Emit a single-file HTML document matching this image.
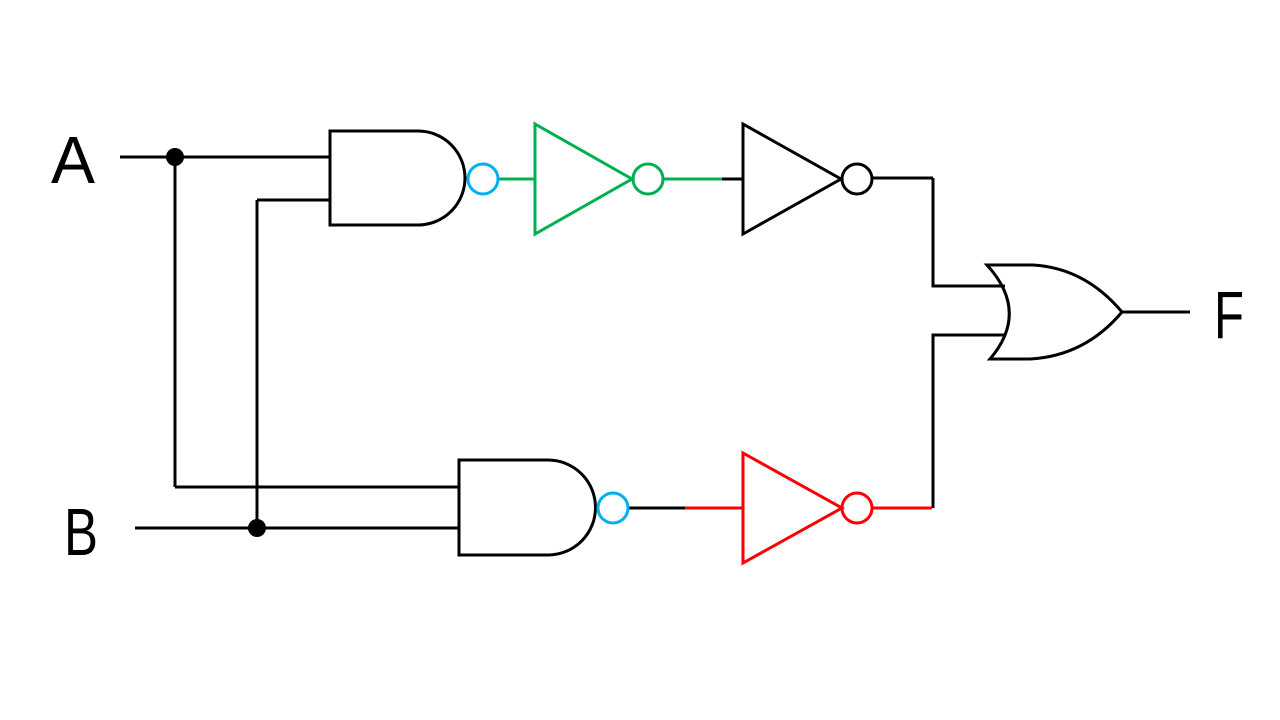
<!DOCTYPE html>
<html><head><meta charset="utf-8"><style>
html,body{margin:0;padding:0;background:#fff;}
svg{display:block;}
text{font-family:"Liberation Sans",sans-serif;font-size:67px;fill:#000;}
</style></head><body>
<svg width="1280" height="720" viewBox="0 0 1280 720" xmlns="http://www.w3.org/2000/svg">
<rect width="1280" height="720" fill="#fff"/>
<g fill="none" stroke-width="3">
<g stroke="#000">
<line x1="120" y1="157" x2="330" y2="157"/>
<line x1="257" y1="200" x2="330" y2="200"/>
<line x1="175" y1="157" x2="175" y2="487"/>
<line x1="257" y1="200" x2="257" y2="528"/>
<line x1="175" y1="487" x2="459" y2="487"/>
<line x1="135" y1="528" x2="459" y2="528"/>
<path d="M418,131 H330 V225 H418 A47,47 0 0 0 418,131 Z"/>
<path d="M548,460 H459 V555 H548 A47.5,47.5 0 0 0 548,460 Z"/>
<line x1="722" y1="179" x2="743" y2="179"/>
<path d="M743,124 L841,179 L743,234 Z"/>
<circle cx="857" cy="179" r="15"/>
<line x1="872" y1="178" x2="933" y2="178"/>
<path d="M933,178 V286 H1005"/>
<path d="M933,508 V335 H1005"/>
<line x1="627" y1="508" x2="685" y2="508"/>
<path d="M987,265 H1033 Q1085,268 1122,312 Q1085,356 1030,359 H990 Q1030,312 987,265 Z"/>
<line x1="1122" y1="312" x2="1190" y2="312"/>
</g>
<g stroke="#00B050">
<line x1="499" y1="179" x2="535" y2="179"/>
<path d="M535,124 L632,179 L535,234 Z"/>
<circle cx="648" cy="179" r="15"/>
<line x1="663" y1="179" x2="722" y2="179"/>
</g>
<g stroke="#00B0F0">
<circle cx="483" cy="179" r="15"/>
<circle cx="613" cy="508" r="15"/>
</g>
<g stroke="#FF0000">
<line x1="685" y1="508" x2="743" y2="508"/>
<path d="M743,453 L842,508 L743,563 Z"/>
<circle cx="857" cy="508" r="15"/>
<line x1="872" y1="508" x2="932" y2="508"/>
</g>
</g>
<circle cx="175" cy="157" r="9" fill="#000"/>
<circle cx="257" cy="528" r="9" fill="#000"/>
<text x="51" y="183" textLength="44" lengthAdjust="spacingAndGlyphs">A</text>
<text x="64" y="555" textLength="34" lengthAdjust="spacingAndGlyphs">B</text>
<text x="1214" y="338" textLength="30" lengthAdjust="spacingAndGlyphs">F</text>
</svg>
</body></html>
